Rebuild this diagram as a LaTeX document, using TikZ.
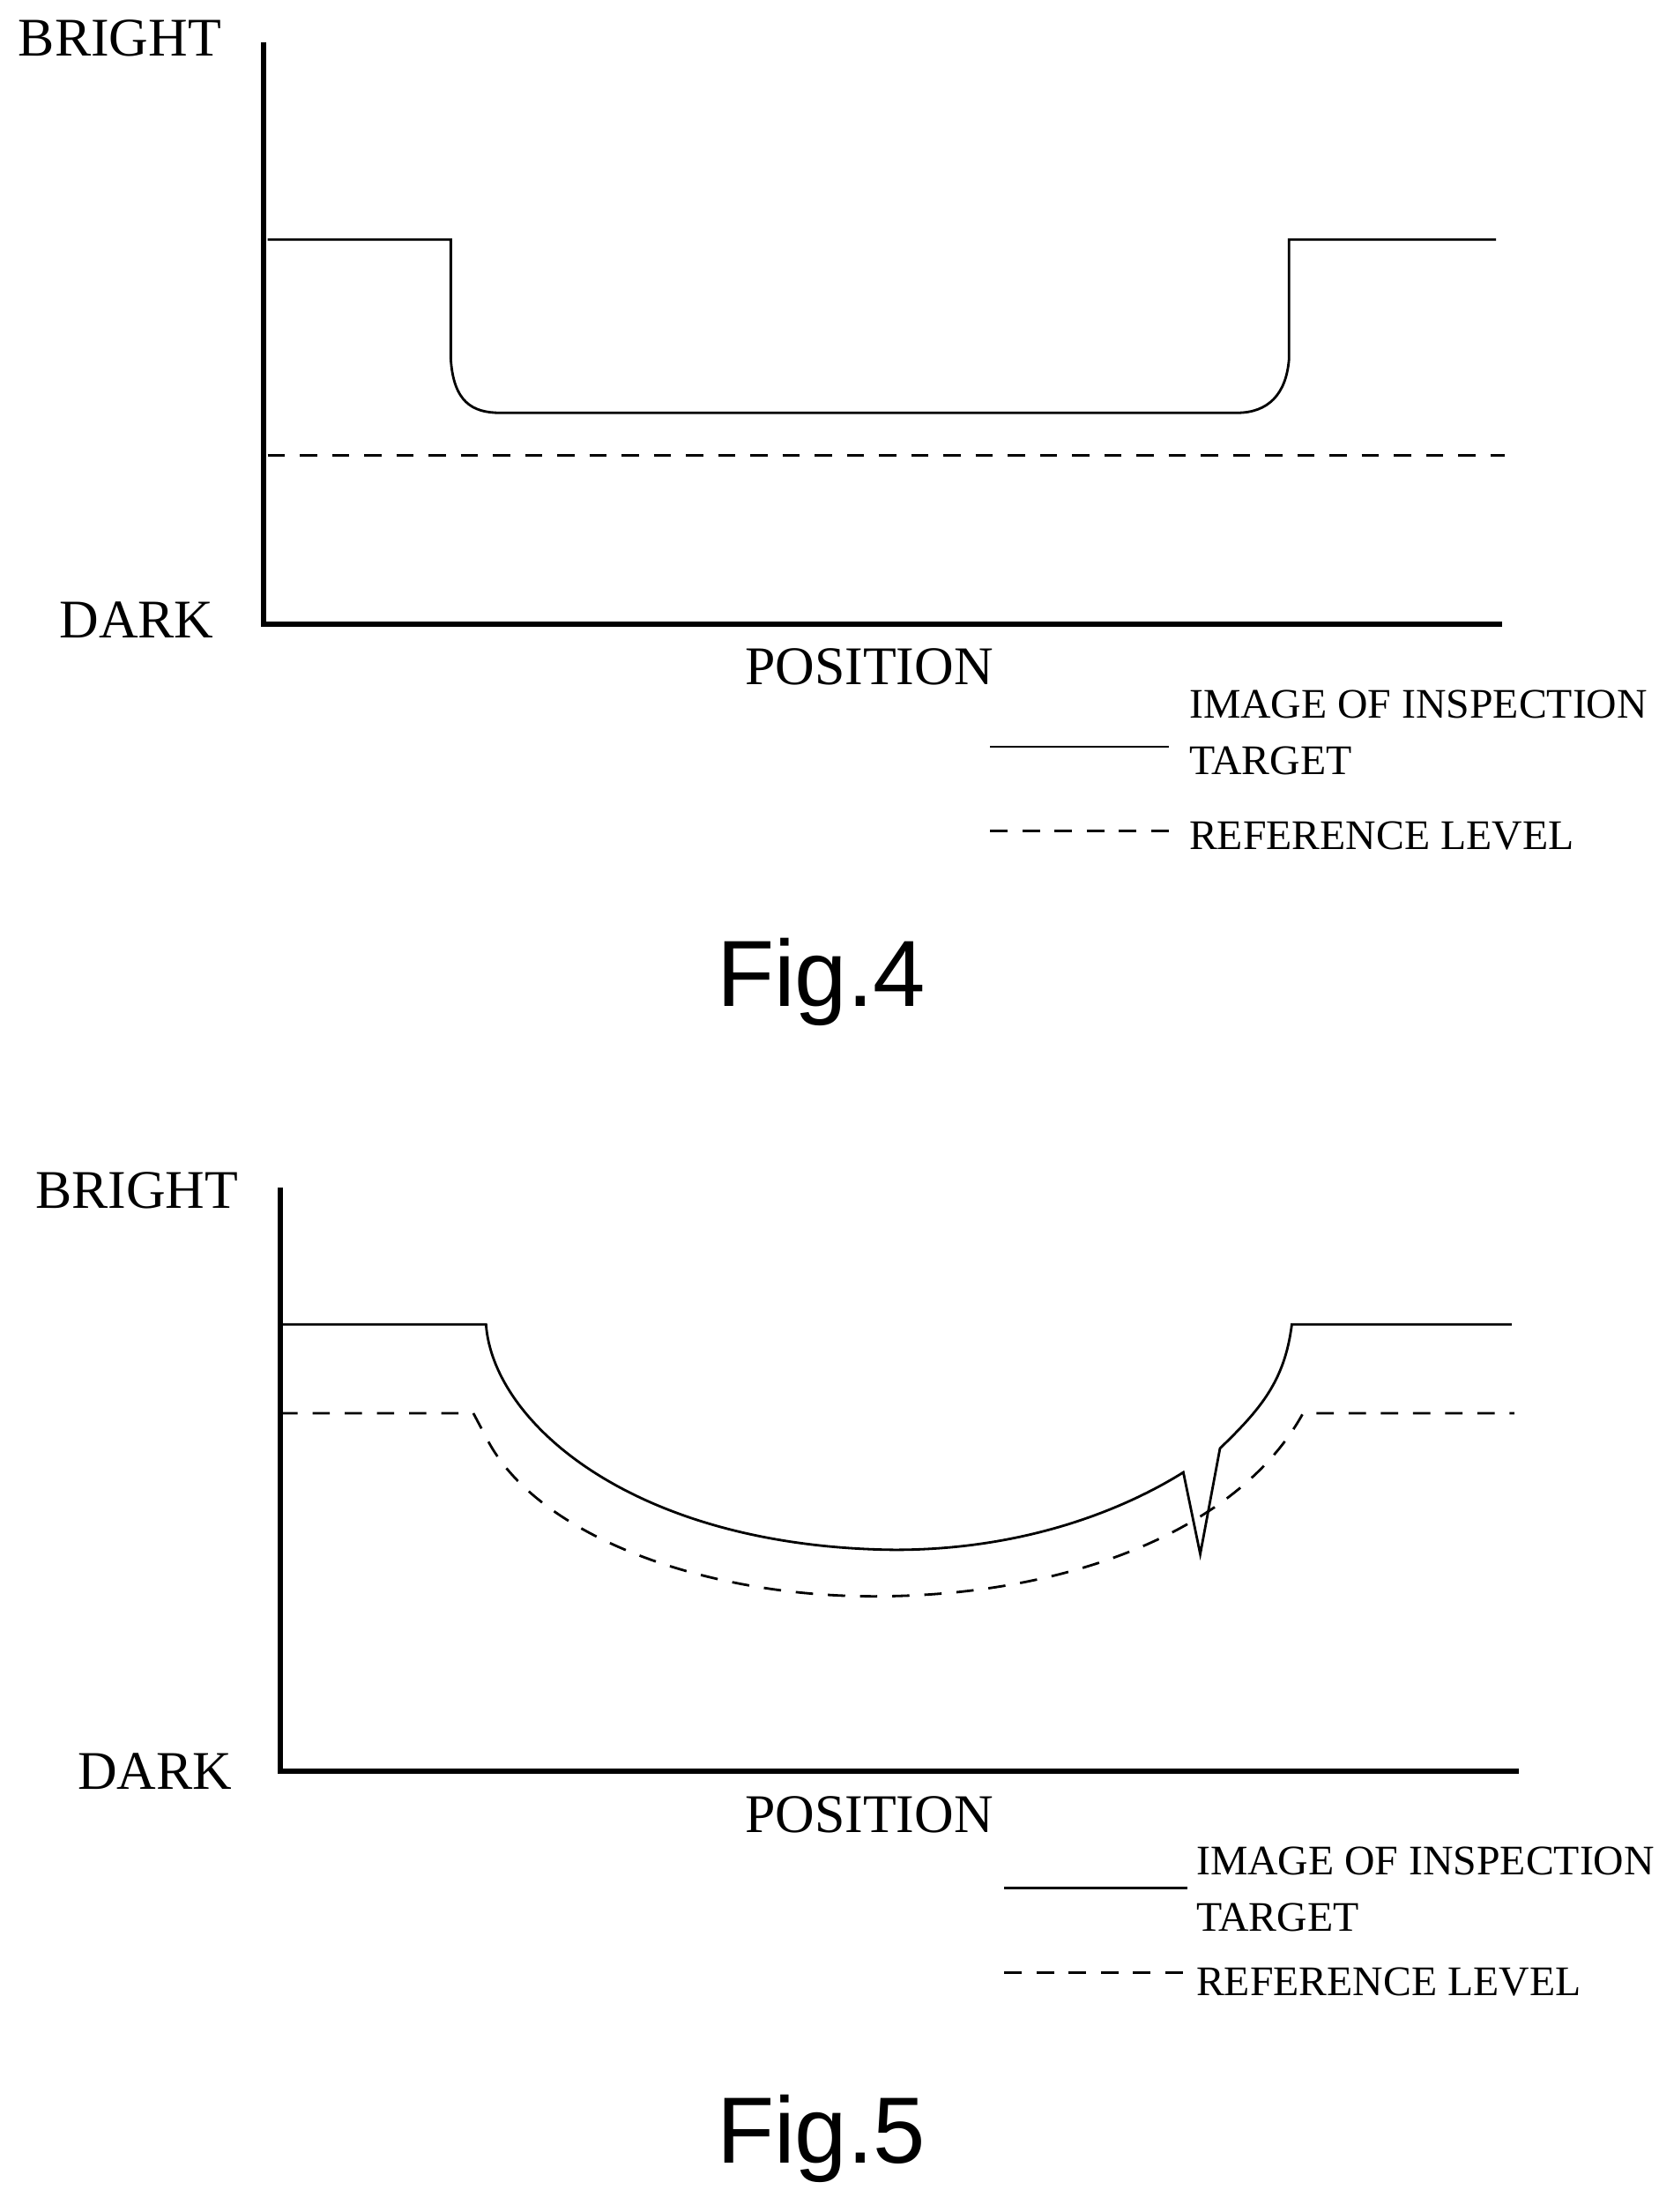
\documentclass[tikz,border=0pt]{standalone}
\usepackage{fontspec}
\setmainfont{Liberation Serif}
\setsansfont{Liberation Sans}
\begin{document}
\begin{tikzpicture}[x=0.02cm, y=-0.02cm,
    % axes of the plots
    axis/.style={line width=2.2pt},
    % the measured profile
    profile/.style={line width=1pt},
    % the reference level
    reflevel/.style={line width=1pt, dash pattern=on 7pt off 6pt},
    % axis words
    axislabel/.style={font=\fontsize{22}{24}\selectfont},
    % legend texts
    legendlabel/.style={anchor=west, font=\fontsize{17}{23}\selectfont, align=left},
    % figure captions
    caption/.style={font=\sffamily\fontsize{38}{42}\selectfont}
    ]
  \useasboundingbox (0,0) rectangle (1188,1570);

  % Fig.4
  \draw[axis] (187,30) -- (187,443) -- (1066,443);
  \node[axislabel] (bright4) at (85,27) {BRIGHT};
  \node[axislabel] (dark4) at (97,440) {DARK};
  \node[axislabel] (pos4) at (617,473) {POSITION};
  \draw[profile] (190,170) -- (320,170) -- (320,255)
    .. controls (322,285) and (335,293) .. (355,293) -- (878,293)
    .. controls (900,293) and (913,280) .. (915,255) -- (915,170) -- (1062,170);
  \draw[reflevel] (190,323) -- (1068,323);
  \draw[profile] (703,530) -- (830,530);
  \node[legendlabel] (leg4a) at (838,520) {IMAGE OF INSPECTION\\TARGET};
  \draw[reflevel] (703,590) -- (830,590);
  \node[legendlabel] (leg4b) at (838,593) {REFERENCE LEVEL};
  \node[caption] (fig4) at (583,697) {Fig.4};

  % Fig.5
  \draw[axis] (199,843) -- (199,1257) -- (1078,1257);
  \node[axislabel] (bright5) at (97,845) {BRIGHT};
  \node[axislabel] (dark5) at (110,1257) {DARK};
  \node[axislabel] (pos5) at (617,1288) {POSITION};
  \draw[profile] (199,940) -- (345,940)
    .. controls (350,1010) and (450,1098) .. (635,1100)
    .. controls (730,1100) and (800,1070) .. (840,1045)
    -- (852,1103) -- (866,1028)
    .. controls (895,1000) and (912,980) .. (917,940) -- (1073,940);
  \draw[reflevel] (199,1003) -- (336,1003) -- (345,1020)
    .. controls (380,1090) and (500,1133) .. (620,1133)
    .. controls (760,1133) and (880,1085) .. (925,1003) -- (1075,1003);
  \draw[profile] (713,1340) -- (843,1340);
  \node[legendlabel] (leg5a) at (843,1341) {IMAGE OF INSPECTION\\TARGET};
  \draw[reflevel] (713,1400) -- (843,1400);
  \node[legendlabel] (leg5b) at (843,1407) {REFERENCE LEVEL};
  \node[caption] (fig5) at (583,1518) {Fig.5};
\end{tikzpicture}
\end{document}
